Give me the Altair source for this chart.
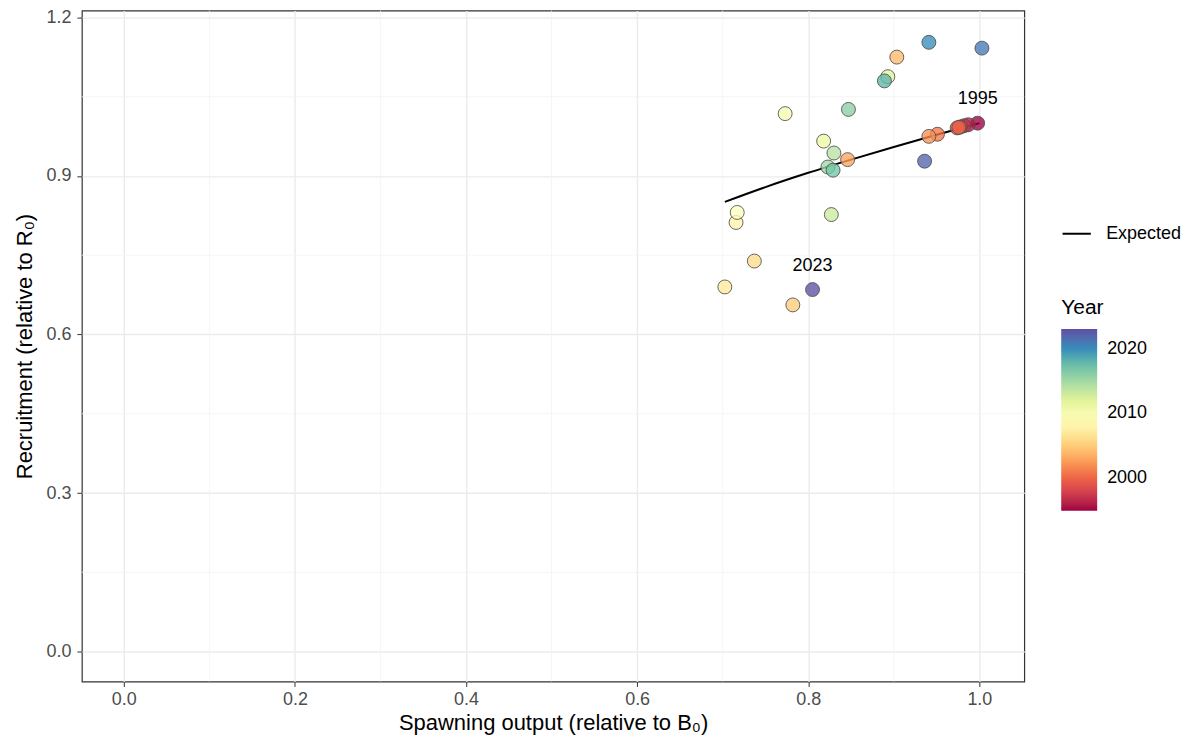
import altair as alt
import pandas as pd

# Observed points (year, spawning output / B0, recruitment / R0)
years = [1995, 1996, 1997, 1998, 1999, 2000, 2001, 2002, 2003, 2004,
         2005, 2006, 2007, 2008, 2009, 2010, 2011, 2012, 2013, 2014,
         2015, 2016, 2017, 2018, 2020, 2021, 2022, 2023]
spawn = [0.998, 0.987, 0.982, 0.978, 0.974, 0.976, 0.951, 0.941, 0.846, 0.9035,
         0.782, 0.737, 0.7025, 0.7156, 0.717, 0.773, 0.818, 0.893, 0.827, 0.830,
         0.823, 0.847, 0.829, 0.889, 0.941, 1.003, 0.936, 0.805]
recruit = [1.000, 0.997, 0.995, 0.993, 0.991, 0.992, 0.979, 0.975, 0.931, 1.125,
           0.656, 0.739, 0.690, 0.812, 0.831, 1.018, 0.966, 1.088, 0.827, 0.9435,
           0.917, 1.026, 0.911, 1.080, 1.153, 1.142, 0.928, 0.685]

# Expected stock-recruit curve
exp_x = [0.7025, 0.75, 0.80, 0.85, 0.90, 0.95, 1.0]
exp_y = [0.851, 0.879, 0.906, 0.931, 0.955, 0.978, 1.000]

labelled_years = [1995, 2023]

x_ticks = [0.0, 0.2, 0.4, 0.6, 0.8, 1.0]
y_ticks = [0.0, 0.3, 0.6, 0.9, 1.2]
x_minor = [0.1, 0.3, 0.5, 0.7, 0.9]
y_minor = [0.15, 0.45, 0.75, 1.05]

# Spectral palette stops (ColorBrewer, 11 classes) spread over the year range
spectral = ["#9E0142", "#D53E4F", "#F46D43", "#FDAE61", "#FEE08B", "#FFFFBF",
            "#E6F598", "#ABDDA4", "#66C2A5", "#3288BD", "#5E4FA2"]
year_stops = [1995, 1997.8, 2000.6, 2003.4, 2006.2, 2009, 2011.8, 2014.6, 2017.4, 2020.2, 2023]

pts = pd.DataFrame({"year": years, "S": spawn, "R": recruit})
lab = pts[pts["year"].isin(labelled_years)].copy()
lab["txt"] = lab["year"].astype(str)
curve = pd.DataFrame({"S": exp_x, "R": exp_y, "series": ["Expected"] * len(exp_x)})

FONT = "Liberation Sans"
xs = alt.Scale(domain=[-0.049, 1.0525], nice=False, zero=False)
ys = alt.Scale(domain=[-0.0567, 1.213], nice=False, zero=False)

xax = alt.Axis(values=x_ticks, format=".1f", title="Spawning output (relative to B₀)",
               grid=True, gridColor="#EBEBEB", gridWidth=1.4)
yax = alt.Axis(values=y_ticks, format=".1f", title="Recruitment (relative to R₀)",
               grid=True, gridColor="#EBEBEB", gridWidth=1.4)

minor_x = alt.Chart(pd.DataFrame({"v": x_minor})).mark_rule(
    color="#F3F3F3", strokeWidth=0.8).encode(x=alt.X("v:Q", scale=xs, axis=xax))
minor_y = alt.Chart(pd.DataFrame({"v": y_minor})).mark_rule(
    color="#F3F3F3", strokeWidth=0.8).encode(y=alt.Y("v:Q", scale=ys, axis=yax))

line = alt.Chart(curve).mark_line(strokeWidth=2, interpolate="monotone").encode(
    x=alt.X("S:Q", scale=xs, axis=xax),
    y=alt.Y("R:Q", scale=ys, axis=yax),
    stroke=alt.Stroke("series:N", scale=alt.Scale(domain=["Expected"], range=["black"]),
                      legend=alt.Legend(title=None, orient="none", legendX=981, legendY=208,
                                        symbolType="stroke", symbolSize=800,
                                        symbolStrokeWidth=2, labelFontSize=18,
                                        labelOffset=14,
                                        labelColor="#000000", labelFont=FONT)),
)

points = alt.Chart(pts).mark_circle(size=195, stroke="#4D4D4D", strokeWidth=1,
                                    fillOpacity=0.78, strokeOpacity=0.85).encode(
    x=alt.X("S:Q", scale=xs, axis=xax),
    y=alt.Y("R:Q", scale=ys, axis=yax),
    fill=alt.Fill("year:Q",
                  scale=alt.Scale(domain=year_stops, range=spectral, interpolate="lab"),
                  legend=alt.Legend(title="Year", orient="none", legendX=981, legendY=287,
                                    values=[2000, 2010, 2020], format="d",
                                    gradientLength=182, gradientThickness=36,
                                    gradientStrokeWidth=0, labelOffset=10,
                                    titleFontSize=21, titleFontWeight="normal",
                                    titleColor="#000000", titleFont=FONT, titlePadding=11,
                                    labelFontSize=18, labelColor="#000000",
                                    labelFont=FONT, direction="vertical")),
)

texts = alt.Chart(lab).mark_text(dy=-24, fontSize=18, font=FONT,
                                 color="#000000").encode(
    x=alt.X("S:Q", scale=xs, axis=xax),
    y=alt.Y("R:Q", scale=ys, axis=yax),
    text="txt:N",
)

chart = alt.layer(minor_x, minor_y, line, points, texts).resolve_scale(
    fill="independent", stroke="independent"
).properties(
    width=944, height=672,
    autosize=alt.AutoSizeParams(type="none"),
    padding={"left": 74, "top": 2, "right": 165, "bottom": 56},
).configure_view(
    stroke="#333333", strokeWidth=1.2
).configure_axis(
    domain=False, tickColor="#333333", tickSize=5, tickWidth=1,
    labelColor="#4D4D4D", labelFontSize=18, labelFont=FONT,
    titleColor="#000000", titleFontSize=22, titleFontWeight="normal",
    titleFont=FONT,
).configure_axisX(titlePadding=4, labelPadding=4).configure_axisY(titlePadding=9, labelPadding=6)

chart.save("out.html", embed_options={"renderer": "svg", "actions": False})
